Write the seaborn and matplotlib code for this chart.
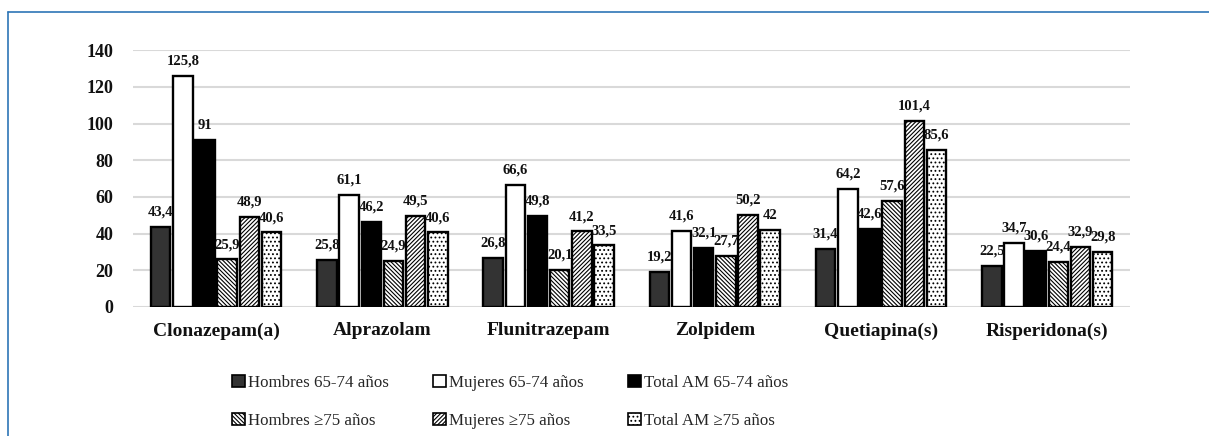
import matplotlib
matplotlib.use("Agg")
import matplotlib.pyplot as plt
import seaborn as sns
import pandas as pd
from matplotlib.patches import Patch
from matplotlib.lines import Line2D

categories = ["Clonazepam(a)", "Alprazolam", "Flunitrazepam", "Zolpidem", "Quetiapina(s)", "Risperidona(s)"]
series = ["Hombres 65-74 años", "Mujeres 65-74 años", "Total AM 65-74 años",
          "Hombres \u226575 años", "Mujeres \u226575 años", "Total AM \u226575 años"]
hombres_65_74 = [43.4, 25.8, 26.8, 19.2, 31.4, 22.5]
mujeres_65_74 = [125.8, 61.1, 66.6, 41.6, 64.2, 34.7]
total_65_74 = [91, 46.2, 49.8, 32.1, 42.6, 30.6]
hombres_75 = [25.9, 24.9, 20.1, 27.7, 57.6, 24.4]
mujeres_75 = [48.9, 49.5, 41.2, 50.2, 101.4, 32.9]
total_75 = [40.6, 40.6, 33.5, 42, 85.6, 29.8]
yticks = [0, 20, 40, 60, 80, 100, 120, 140]

values = [hombres_65_74, mujeres_65_74, total_65_74, hombres_75, mujeres_75, total_75]
rows = []
for s, vals in zip(series, values):
    for c, v in zip(categories, vals):
        rows.append({"Medicamento": c, "Grupo": s, "Valor": v})
df = pd.DataFrame(rows)

facecolors = ["#333333", "white", "black", "white", "white", "white"]
hatches = [None, None, None, "\\" * 8, "/" * 8, "...."]

sns.set_theme(style="white")
plt.rcParams["font.family"] = ["Liberation Serif", "DejaVu Serif"]
plt.rcParams["hatch.linewidth"] = 0.8

fig = plt.figure(figsize=(12.09, 4.36), dpi=100)
ax = fig.add_axes([0.110, 0.296, 0.825, 0.589])

sns.barplot(data=df, x="Medicamento", y="Valor", hue="Grupo", order=categories,
            hue_order=series, palette=facecolors, width=0.8, gap=0.12,
            edgecolor="black", linewidth=1.7, saturation=1, legend=False, ax=ax)

for i, cont in enumerate(ax.containers):
    for bar in cont:
        bar.set_edgecolor("black")
        if hatches[i]:
            bar.set_hatch(hatches[i])
    labels = [f"{v:g}".replace(".", ",") for v in values[i]]
    ax.bar_label(cont, labels=labels, padding=6, fontsize=10.5, fontweight="bold",
                 color="#111111", clip_on=False)

ax.set_ylim(0, 140)
ax.set_yticks(yticks)
ax.set_xlabel("")
ax.set_ylabel("")
ax.yaxis.grid(True, color="#d9d9d9", linewidth=1.5)
ax.set_axisbelow(True)
for sp in ax.spines.values():
    sp.set_visible(False)
ax.tick_params(axis="both", length=0)
ax.tick_params(axis="y", pad=14, labelsize=13)
ax.tick_params(axis="x", pad=11, labelsize=14)
for t in ax.get_yticklabels() + ax.get_xticklabels():
    t.set_fontweight("bold")
    t.set_color("#111111")

handles = [Patch(facecolor=facecolors[i], edgecolor="black", hatch=hatches[i], linewidth=1.2)
           for i in range(6)]
order = [0, 3, 1, 4, 2, 5]
fig.legend([handles[i] for i in order], [series[i] for i in order], ncol=3,
           loc="center", bbox_to_anchor=(0.422, 0.078), frameon=False,
           fontsize=12.2, handlelength=0.75, handleheight=0.75, handletextpad=0.2,
           columnspacing=2.6, labelspacing=1.3)

border = "#2E75B6"
fig.add_artist(Line2D([8 / 1209, 1.0], [1 - 12 / 436, 1 - 12 / 436], color=border,
                      linewidth=1.2, transform=fig.transFigure))
fig.add_artist(Line2D([8 / 1209, 8 / 1209], [0, 1 - 12 / 436], color=border,
                      linewidth=1.2, transform=fig.transFigure))

fig.savefig("out.png", dpi=100, facecolor="white")
